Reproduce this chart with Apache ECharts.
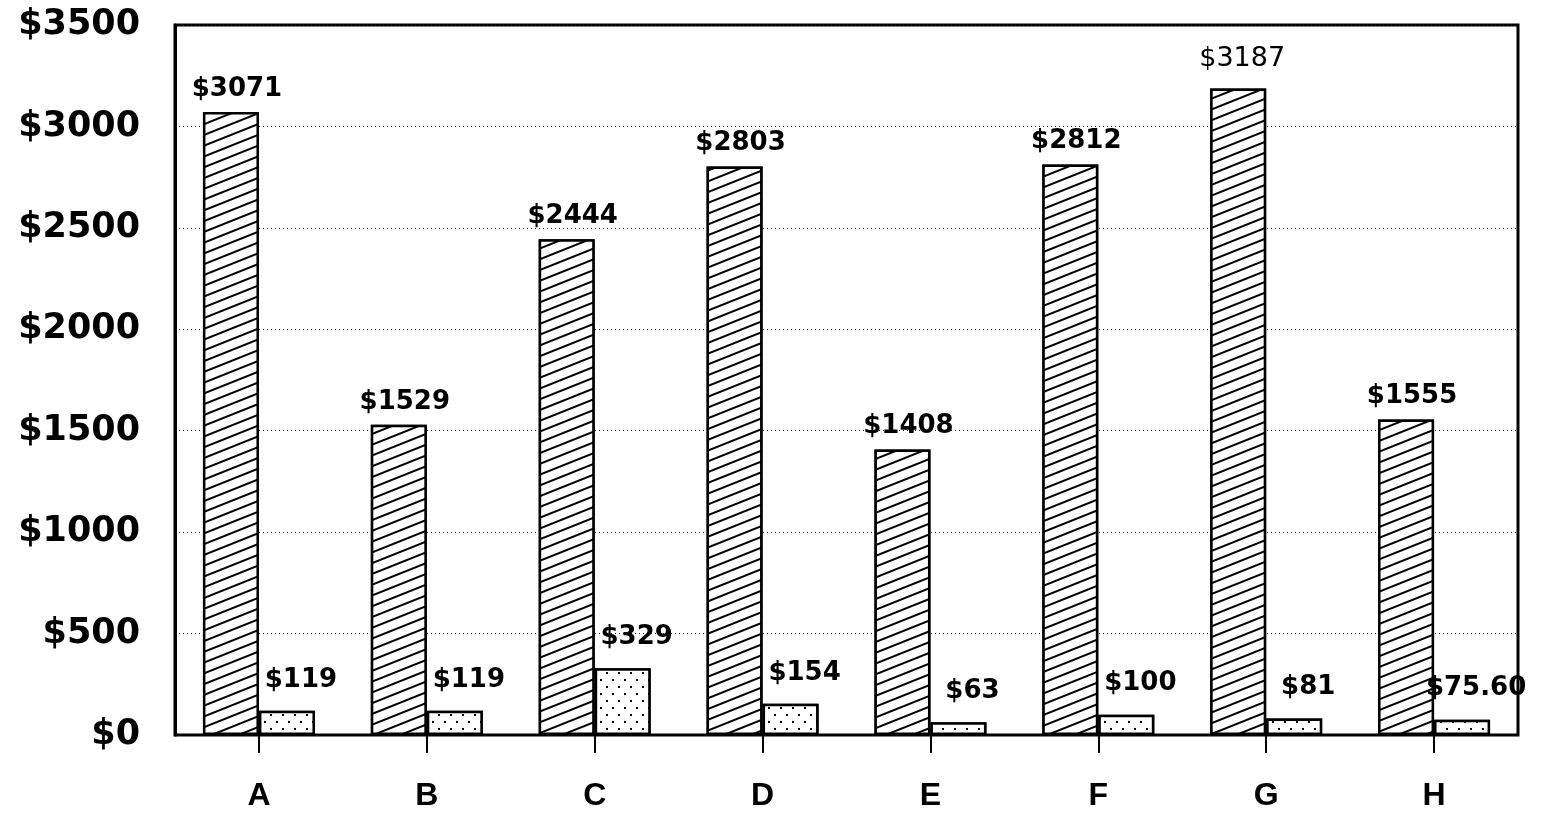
<!DOCTYPE html>
<html lang="en">
<head>
  <meta charset="UTF-8" />
  <title>Cost comparison</title>
  <script src="https://cdnjs.cloudflare.com/ajax/libs/echarts/6.0.0/echarts.min.js"></script>
  <style>
    body { margin: 0; background: #fff; }
    #main { width: 1567px; height: 821px; }
  </style>
</head>
<body>
  <div id="main"></div>
  <script>
    const categories = ["A", "B", "C", "D", "E", "F", "G", "H"];
    const hatchedValues = [3071, 1529, 2444, 2803, 1408, 2812, 3187, 1555];
    const dottedValues = [119, 119, 329, 154, 63, 100, 81, 75.6];

    const chart = echarts.init(document.getElementById("main"));

    const money = (v) => "$" + (Number.isInteger(v) ? v : v.toFixed(2));

    const labelFont = {
      fontFamily: "DejaVu Sans",
      fontWeight: "bold",
      fontSize: 26,
      color: "#000",
    };

    chart.setOption({
      animation: false,
      grid: {
        left: 175, right: 49, top: 25, bottom: 86,
        show: true, borderColor: "#000", borderWidth: 3,
      },
      xAxis: {
        type: "category",
        data: categories,
        axisLine: { lineStyle: { color: "#000", width: 2 } },
        axisTick: { show: true, alignWithLabel: true, length: 18, lineStyle: { color: "#000", width: 2 } },
        axisLabel: {
          margin: 45, color: "#000",
          fontFamily: "Liberation Sans", fontWeight: "bold", fontSize: 32,
        },
        z: 5,
      },
      yAxis: {
        type: "value",
        min: 0, max: 3500, interval: 500,
        axisLine: { show: true, lineStyle: { color: "#000", width: 3 } },
        axisTick: { show: false },
        axisLabel: {
          margin: 35, color: "#000",
          fontFamily: "DejaVu Sans", fontWeight: "bold", fontSize: 35,
          formatter: (v) => "$" + v,
        },
        splitLine: { lineStyle: { type: [1, 3], color: "#222", width: 1 } },
      },
      series: [
        {
          type: "bar",
          data: hatchedValues.map((v, i) =>
            i === 6
              ? { value: v, label: { fontWeight: "normal", fontSize: 27, offset: [4, -6] } }
              : v
          ),
          barWidth: 56,
          barGap: "0%",
          itemStyle: {
            color: "#fff", borderColor: "#000", borderWidth: 2.5,
            decal: {
              symbol: "rect", symbolSize: 1,
              dashArrayX: [1, 0], dashArrayY: [2, 7.5],
              rotation: -0.38,
              color: "#000", backgroundColor: "#fff",
            },
          },
          label: {
            show: true, position: "top", distance: 10, offset: [6, 0],
            formatter: (p) => money(p.value),
            ...labelFont,
          },
        },
        {
          type: "bar",
          data: dottedValues,
          barWidth: 56,
          itemStyle: {
            color: "#fff", borderColor: "#000", borderWidth: 2.5,
            decal: {
              symbol: "rect", symbolSize: 1,
              dashArrayX: [[1.5, 9.5], [0, 5.5, 1.5, 4]],
              dashArrayY: [1.5, 4.2],
              color: "#000", backgroundColor: "#fff",
            },
          },
          label: {
            show: true, position: "top", distance: 18, offset: [14, 0],
            formatter: (p) => money(p.value),
            ...labelFont,
          },
        },
      ],
    });
  </script>
</body>
</html>
